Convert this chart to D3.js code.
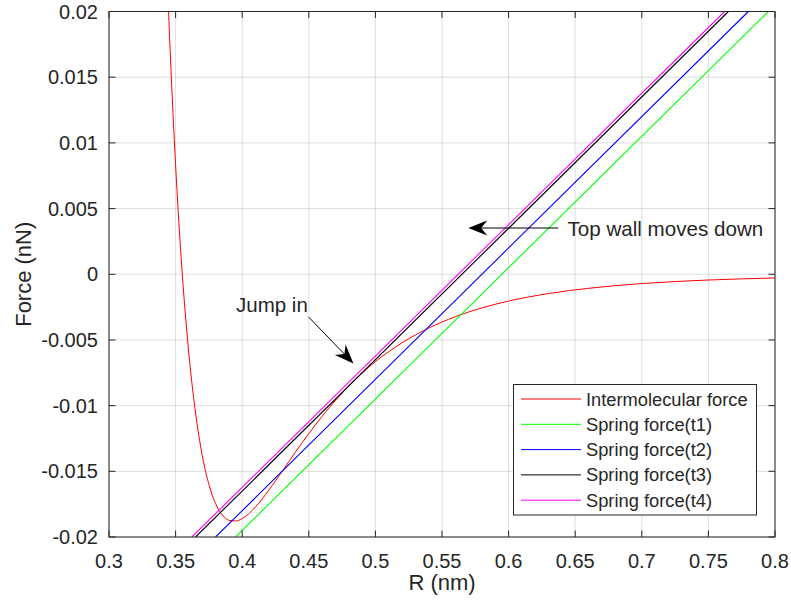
<!DOCTYPE html>
<html>
<head>
<meta charset="utf-8">
<script src="https://cdn.jsdelivr.net/npm/d3@7"></script>
<style>
  html, body { margin: 0; padding: 0; background: #fff; }
  svg { display: block; }
  text { font-family: "Liberation Sans", Arial, Helvetica, sans-serif; fill: #262626; }
</style>
</head>
<body>
<svg id="chart" width="791" height="604"></svg>
<script>
// Intermolecular (Lennard-Jones type) force vs separation, R in nm, F in nN
const interR = [0.344, 0.346, 0.348, 0.350, 0.352, 0.355, 0.358, 0.362, 0.366, 0.370,
                0.375, 0.380, 0.385, 0.390, 0.395, 0.400, 0.410, 0.420, 0.430, 0.440,
                0.450, 0.460, 0.480, 0.500, 0.520, 0.540, 0.560, 0.580, 0.600, 0.630,
                0.660, 0.700, 0.750, 0.800];
const interF = [0.0218, 0.01681, 0.01234, 0.00831, 0.00471, 0.00004, -0.00386, -0.00806, -0.01130, -0.01379,
                -0.01600, -0.01745, -0.01831, -0.01873, -0.01878, -0.01860, -0.01771, -0.01643, -0.01500, -0.01353,
                -0.01213, -0.01081, -0.00851, -0.00665, -0.00522, -0.00410, -0.00323, -0.00256, -0.00204, -0.00147,
                -0.00107, -0.00071, -0.00044, -0.000284];

// Spring force lines at four wall positions: end points (R, F)
const springNames = ["Spring force(t1)", "Spring force(t2)", "Spring force(t3)", "Spring force(t4)"];
const springR = [[0.395, 0.795], [0.380, 0.780], [0.365, 0.765], [0.3622, 0.7622]];
const springF = [[-0.02, 0.02], [-0.02, 0.02], [-0.02, 0.02], [-0.02, 0.02]];

const seriesNames = ["Intermolecular force"].concat(springNames);
const seriesColors = ["#ff0000", "#00ff00", "#0000ff", "#000000", "#ff00ff"];

const xTicks = [0.3, 0.35, 0.4, 0.45, 0.5, 0.55, 0.6, 0.65, 0.7, 0.75, 0.8];
const xTickLabels = ["0.3", "0.35", "0.4", "0.45", "0.5", "0.55", "0.6", "0.65", "0.7", "0.75", "0.8"];
const yTicks = [-0.02, -0.015, -0.01, -0.005, 0, 0.005, 0.01, 0.015, 0.02];
const yTickLabels = ["-0.02", "-0.015", "-0.01", "-0.005", "0", "0.005", "0.01", "0.015", "0.02"];

(function draw() {
  const svg = d3.select("#chart");
  const pL = 109, pR = 775, pT = 11.5, pB = 537;
  const x = d3.scaleLinear().domain([0.3, 0.8]).range([pL, pR]);
  const y = d3.scaleLinear().domain([-0.02, 0.02]).range([pB, pT]);
  const axisColor = "#262626";

  // grid
  const grid = svg.append("g");
  grid.selectAll("line.gx").data(xTicks).join("line").attr("class", "gx")
    .attr("x1", d => x(d)).attr("x2", d => x(d)).attr("y1", pT).attr("y2", pB)
    .attr("stroke", axisColor).attr("stroke-opacity", 0.15).attr("stroke-width", 1);
  grid.selectAll("line.gy").data(yTicks).join("line").attr("class", "gy")
    .attr("y1", d => y(d)).attr("y2", d => y(d)).attr("x1", pL).attr("x2", pR)
    .attr("stroke", axisColor).attr("stroke-opacity", 0.15).attr("stroke-width", 1);

  // data
  svg.append("clipPath").attr("id", "plotClip").append("rect")
    .attr("x", pL).attr("y", pT).attr("width", pR - pL).attr("height", pB - pT);
  const plot = svg.append("g").attr("clip-path", "url(#plotClip)");

  const curve = d3.line().x(d => x(d[0])).y(d => y(d[1])).curve(d3.curveMonotoneX);
  const interPts = interR.map((r, i) => [r, interF[i]]);
  plot.append("path").datum(interPts).attr("d", curve)
    .attr("fill", "none").attr("stroke", seriesColors[0]).attr("stroke-width", 1);

  const straight = d3.line().x(d => x(d[0])).y(d => y(d[1]));
  springR.forEach((rs, i) => {
    const pts = rs.map((r, j) => [r, springF[i][j]]);
    plot.append("path").datum(pts).attr("d", straight)
      .attr("fill", "none").attr("stroke", seriesColors[i + 1]).attr("stroke-width", 1.1);
  });

  // axes box with inward ticks
  const tickLen = 6.5;
  const ax = svg.append("g").attr("stroke", axisColor).attr("stroke-width", 1).attr("fill", "none");
  ax.append("rect").attr("x", pL).attr("y", pT).attr("width", pR - pL).attr("height", pB - pT);
  xTicks.forEach(t => {
    ax.append("line").attr("x1", x(t)).attr("x2", x(t)).attr("y1", pB).attr("y2", pB - tickLen);
    ax.append("line").attr("x1", x(t)).attr("x2", x(t)).attr("y1", pT).attr("y2", pT + tickLen);
  });
  yTicks.forEach(t => {
    ax.append("line").attr("y1", y(t)).attr("y2", y(t)).attr("x1", pL).attr("x2", pL + tickLen);
    ax.append("line").attr("y1", y(t)).attr("y2", y(t)).attr("x1", pR).attr("x2", pR - tickLen);
  });

  // tick labels
  svg.append("g").selectAll("text").data(xTicks).join("text")
    .attr("x", d => x(d)).attr("y", 567.5).attr("text-anchor", "middle")
    .attr("font-size", 20).text((d, i) => xTickLabels[i]);
  svg.append("g").selectAll("text").data(yTicks).join("text")
    .attr("x", pL - 11).attr("y", d => y(d) + 7).attr("text-anchor", "end")
    .attr("font-size", 20).text((d, i) => yTickLabels[i]);

  // axis titles
  svg.append("text").attr("x", (pL + pR) / 2).attr("y", 590).attr("text-anchor", "middle")
    .attr("font-size", 22).text("R (nm)");
  svg.append("text").attr("transform", `translate(31,${(pT + pB) / 2}) rotate(-90)`)
    .attr("text-anchor", "middle").attr("font-size", 22).text("Force (nN)");

  // annotations with arrows
  function arrow(x0, y0, x1, y1) {
    const g = svg.append("g");
    const a = Math.atan2(y1 - y0, x1 - x0);
    const L = 19, W = 7.5, N = 13;
    g.append("line").attr("x1", x0).attr("y1", y0)
      .attr("x2", x1 - N * Math.cos(a)).attr("y2", y1 - N * Math.sin(a))
      .attr("stroke", "#000").attr("stroke-width", 1);
    g.append("path").attr("d", `M0,0 L${-L},${-W} L${-N},0 L${-L},${W} Z`)
      .attr("transform", `translate(${x1},${y1}) rotate(${a * 180 / Math.PI})`)
      .attr("fill", "#000");
  }
  arrow(x(0.4498), y(-0.00325), x(0.4835), y(-0.00679));
  arrow(x(0.6372), y(0.00352), x(0.5697), y(0.00352));
  svg.append("text").attr("x", 236).attr("y", 312).attr("font-size", 20.5).text("Jump in");
  svg.append("text").attr("x", 567.5).attr("y", 236).attr("font-size", 20.6).text("Top wall moves down");

  // legend
  const lg = svg.append("g");
  lg.append("rect").attr("x", 513.5).attr("y", 384.5).attr("width", 243).attr("height", 130.5)
    .attr("fill", "#fff").attr("stroke", axisColor).attr("stroke-width", 1);
  seriesNames.forEach((name, i) => {
    const cy = 399 + i * 25.3;
    lg.append("line").attr("x1", 521).attr("x2", 581).attr("y1", cy).attr("y2", cy)
      .attr("stroke", seriesColors[i]).attr("stroke-width", 1);
    lg.append("text").attr("x", 586).attr("y", cy + 6.5).attr("font-size", 18.3).text(name);
  });
})();
</script>
</body>
</html>
